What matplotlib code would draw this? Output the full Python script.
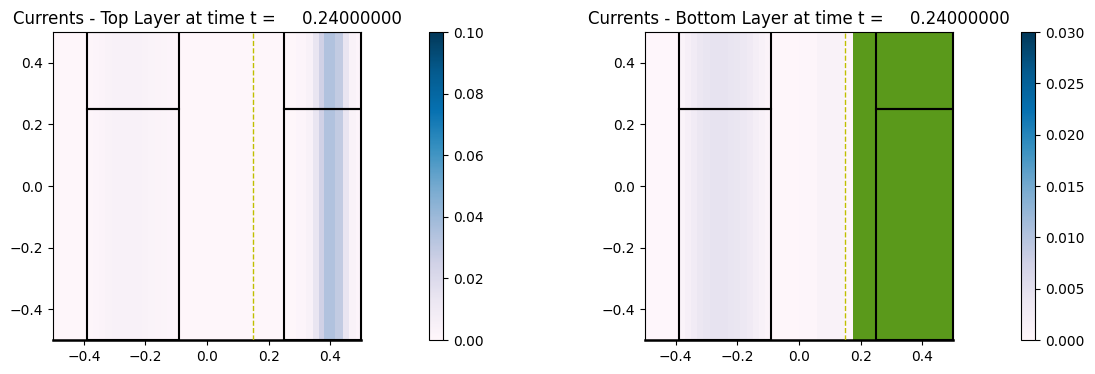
import matplotlib
matplotlib.use('Agg')
import matplotlib.pyplot as plt
from matplotlib.patches import Rectangle
import numpy as np

t = 0.24

# patch outlines (x0, x1, y0, y1)
patches = [(-0.39, -0.09, -0.5, 0.25), (-0.39, -0.09, 0.25, 0.5),
           (0.25, 0.5, -0.5, 0.25), (0.25, 0.5, 0.25, 0.5)]
front_x = 0.15

# top layer current speed, column edges in x and value per column
top_edges = [-0.5, -0.39, -0.37, -0.35, -0.33, -0.31, -0.29, -0.27, -0.25,
             -0.23, -0.21, -0.19, -0.17, -0.15, -0.13, -0.11, -0.09,
             0.25, 0.29, 0.32, 0.345, 0.365, 0.38, 0.415, 0.44, 0.46,
             0.485, 0.5]
top_vals = [0.0008,
            0.0015, 0.002, 0.003, 0.004, 0.0045, 0.005, 0.005, 0.005,
            0.0045, 0.004, 0.0035, 0.003, 0.0025, 0.002, 0.0015,
            0.0008,
            0.001, 0.002, 0.005, 0.014, 0.025, 0.034, 0.029, 0.014,
            0.004, 0.002]

# bottom layer current speed, nan = dry
bot_edges = [-0.5, -0.39, -0.37, -0.35, -0.33, -0.31, -0.29, -0.27, -0.25,
             -0.23, -0.21, -0.19, -0.17, -0.15, -0.13, -0.11, -0.09,
             0.0, 0.06, 0.145, 0.175, 0.5]
bot_vals = [0.0002,
            0.001, 0.0018, 0.0028, 0.0038, 0.0042, 0.0044, 0.0044, 0.0044,
            0.0042, 0.004, 0.0036, 0.003, 0.0022, 0.0015, 0.0009,
            0.0003, 0.0005, 0.0012, 0.0003, np.nan]


def plot_layer(ax, cax, edges, vals, vmax, name):
    cmap = plt.get_cmap('PuBu').copy()
    cmap.set_bad('#5a991b')
    z = np.ma.masked_invalid(np.array([vals]))
    pc = ax.pcolormesh(np.array(edges), np.array([-0.5, 0.5]), z,
                       cmap=cmap, vmin=0.0, vmax=vmax)
    for (x0, x1, y0, y1) in patches:
        ax.add_patch(Rectangle((x0, y0), x1 - x0, y1 - y0, fill=False,
                               ec='k', lw=1.5))
    ax.axhline(-0.5, color='k', lw=1.8, clip_on=False)
    ax.axvline(front_x, color='y', ls='--', lw=1)
    ax.set_xlim(-0.5, 0.5)
    ax.set_ylim(-0.5, 0.5)
    ax.set_title('Currents - %s Layer at time t = %14.8f' % (name, t))
    plt.colorbar(pc, cax=cax)


fig = plt.figure(figsize=(10.95, 3.74), dpi=100)
ax1 = fig.add_axes([0.0484, 0.0909, 0.2813, 0.8235])
cax1 = fig.add_axes([0.3918, 0.0909, 0.0128, 0.8235])
ax2 = fig.add_axes([0.589, 0.0909, 0.2813, 0.8235])
cax2 = fig.add_axes([0.9324, 0.0909, 0.0128, 0.8235])

plot_layer(ax1, cax1, top_edges, top_vals, 0.1, 'Top')
plot_layer(ax2, cax2, bot_edges, bot_vals, 0.03, 'Bottom')

fig.savefig('out.png', dpi=100)
